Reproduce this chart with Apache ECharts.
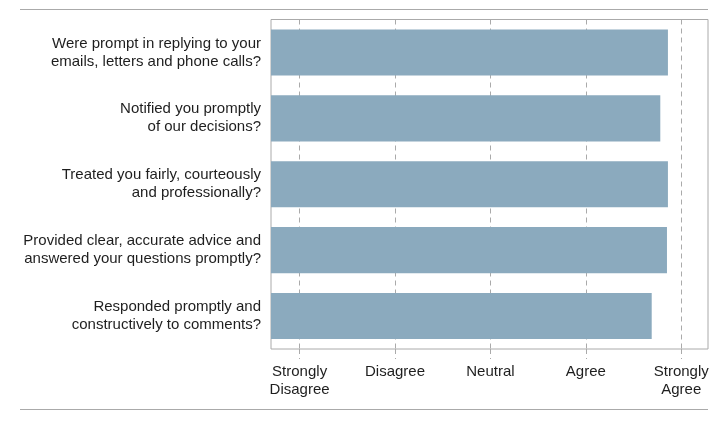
<!DOCTYPE html>
<html>
<head>
<meta charset="utf-8">
<script src="https://cdn.jsdelivr.net/npm/echarts@6/dist/echarts.min.js"></script>
<style>
  html, body { margin: 0; padding: 0; background: #fff; }
  #chart { width: 721px; height: 421px; }
</style>
</head>
<body>
<div id="chart"></div>
<script>
// 问卷题目（从上到下）
const questions = [
  'Were prompt in replying to your\nemails, letters and phone calls?',
  'Notified you promptly\nof our decisions?',
  'Treated you fairly, courteously\nand professionally?',
  'Provided clear, accurate advice and\nanswered your questions promptly?',
  'Responded promptly and\nconstructively to comments?'
];
// 平均得分 1 = Strongly Disagree ... 5 = Strongly Agree
const scores = [4.86, 4.78, 4.86, 4.85, 4.69];
// 刻度位置和刻度文字
const scaleValues = [1, 2, 3, 4, 5];
const scaleLabels = ['Strongly\nDisagree', 'Disagree', 'Neutral', 'Agree', 'Strongly\nAgree'];

const chart = echarts.init(document.getElementById('chart'));

const font = '"Liberation Sans", Arial, sans-serif';

chart.setOption({
  animation: false,
  textStyle: { fontFamily: font },
  grid: {
    left: 271,
    right: 13,
    top: 19.5,
    bottom: 72,
    show: true,
    borderColor: '#aaaaaa',
    borderWidth: 1
  },
  graphic: [
    { type: 'line', shape: { x1: 20, y1: 9.5, x2: 708, y2: 9.5 }, style: { stroke: '#aaaaaa', lineWidth: 1 } },
    { type: 'line', shape: { x1: 20, y1: 409.5, x2: 708, y2: 409.5 }, style: { stroke: '#aaaaaa', lineWidth: 1 } }
  ],
  xAxis: {
    type: 'value',
    min: 0.7,
    max: 5.28,
    axisLine: { show: false },
    axisTick: {
      show: true,
      customValues: scaleValues,
      length: 10,
      lineStyle: { color: '#aaaaaa', type: [5, 4] }
    },
    axisLabel: {
      customValues: scaleValues,
      formatter: v => scaleLabels[scaleValues.indexOf(Math.round(v))],
      color: '#1e1e1e',
      fontSize: 15,
      lineHeight: 18,
      margin: 14,
      fontFamily: font
    },
    splitLine: {
      show: true,
      lineStyle: { color: '#aaaaaa', type: [5, 4] }
    }
  },
  yAxis: {
    type: 'category',
    inverse: true,
    data: questions,
    axisLine: { show: false },
    axisTick: { show: false },
    axisLabel: {
      color: '#1e1e1e',
      fontSize: 15,
      lineHeight: 18,
      margin: 10,
      align: 'right',
      padding: [3, 0, 0, 0],
      fontFamily: font
    }
  },
  series: [{
    type: 'bar',
    data: scores,
    barCategoryGap: '30%',
    itemStyle: { color: '#8BAABE' }
  }]
});
</script>
</body>
</html>
